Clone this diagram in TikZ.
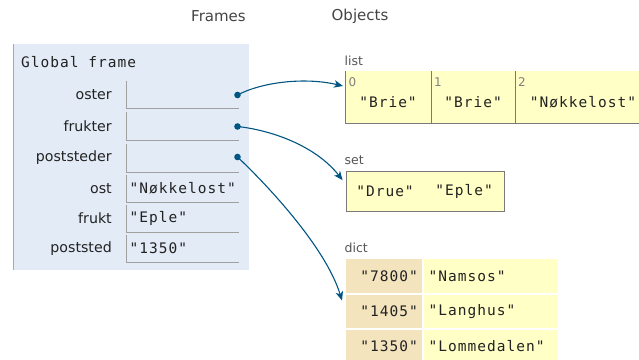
\documentclass[tikz,border=0pt]{standalone}
\usepackage{fontspec}
\setmainfont{DejaVu Sans}
\newfontfamily\monof[LetterSpace=7]{DejaVu Sans Mono}
\usetikzlibrary{arrows.meta,calc}
\definecolor{framebg}{HTML}{E2EBF6}
\definecolor{frameedge}{HTML}{A8A8A8}
\definecolor{cellline}{HTML}{A0A0A0}
\definecolor{ptrblue}{HTML}{005583}
\definecolor{heapbg}{HTML}{FFFFC6}
\definecolor{keybg}{HTML}{F3E4BE}
\definecolor{heapedge}{HTML}{7A7A7A}
\definecolor{hdrtext}{HTML}{444444}
\definecolor{lbltext}{HTML}{555555}
\definecolor{idxtext}{HTML}{808080}
\definecolor{vartext}{HTML}{222222}
\begin{document}
\begin{tikzpicture}[x=1pt,y=-1pt,
  header/.style={inner sep=0pt,text=hdrtext,font=\fontsize{15}{18}\selectfont},
  mono/.style={inner sep=0pt,text=vartext,font=\monof\fontsize{14.5}{17}\selectfont},
  varname/.style={inner sep=0pt,text=vartext,font=\fontsize{14.2}{17}\selectfont},
  objlbl/.style={inner sep=0pt,text=lbltext,font=\fontsize{12.5}{15}\selectfont},
  idx/.style={inner sep=0pt,text=idxtext,font=\fontsize{12}{14}\selectfont},
  cellbox/.style={inner sep=0pt,minimum width=113pt,minimum height=27.5pt},
  edge/.style={draw=cellline,line width=0.9pt},
  ptrarrow/.style={draw=ptrblue,line width=1.1pt,-{Stealth[length=9pt,width=7.5pt,inset=2.5pt]}},
  listcell/.style={inner sep=0pt,fill=heapbg,minimum height=51.7pt},
  dictkey/.style={inner sep=0pt,fill=keybg,minimum width=76pt,minimum height=33.5pt},
  dictval/.style={inner sep=0pt,fill=heapbg,minimum width=134pt,minimum height=33.5pt},
]
\useasboundingbox (0,0) rectangle (639,359);

% headers
\node[header] (hframes) at (218.5,16) {Frames};
\node[header] (hobjects) at (360,16) {Objects};

% global frame
\node[inner sep=0pt,fill=framebg,anchor=north west,minimum width=236pt,minimum height=226pt] (gframe) at (13,44) {};
\draw[draw=frameedge,line width=1pt] (gframe.north west) -- (gframe.south west);
\node[mono,anchor=west] (gtitle) at (21,62) {Global frame};

\foreach \i/\nm/\val/\yc in {1/oster/{}/94.8,2/frukter/{}/126,3/poststeder/{}/158,4/ost/{"Nøkkelost"}/188.5,5/frukt/{"Eple"}/218.5,6/poststed/{"1350"}/248.5}{
  \node[varname,anchor=east] (n\i) at (112,\yc) {\nm};
  \node[cellbox,anchor=west] (c\i) at (126,\yc) {};
  \draw[edge] (c\i.north west) -- (c\i.south west) -- (c\i.south east);
  \node[mono,anchor=west] (t\i) at (129.5,\yc) {\val};
}

% pointer dots
\coordinate (p1) at (237.5,95);
\coordinate (p2) at (237.5,126.5);
\coordinate (p3) at (237.5,157);
\foreach \p in {p1,p2,p3}{\fill[ptrblue] (\p) circle (3.3pt);}

% list
\node[objlbl,anchor=west] (llist) at (344.5,61) {list};
\node[listcell,anchor=north west,minimum width=85.5pt] (l0) at (345.5,71) {};
\node[listcell,anchor=north west,minimum width=84pt] (l1) at (431,71) {};
\node[listcell,anchor=north west,minimum width=150pt] (l2) at (515,71) {};
\foreach \c in {l0,l1,l2}{\draw[draw=heapedge,line width=1pt] (\c.north west) -- (\c.south west) -- (\c.south east);}
\node[idx,anchor=north west] (i0) at (348.5,77.5) {0};
\node[idx,anchor=north west] (i1) at (434,77.5) {1};
\node[idx,anchor=north west] (i2) at (518,77.5) {2};
\node[mono] (lv0) at (388,102.5) {"Brie"};
\node[mono] (lv1) at (473,102.5) {"Brie"};
\node[mono] (lv2) at (583,102.5) {"Nøkkelost"};

% set
\node[objlbl,anchor=west] (lset) at (344.5,160) {set};
\node[inner sep=0pt,fill=heapbg,draw=heapedge,line width=1pt,anchor=north west,minimum width=158pt,minimum height=40pt] (setobj) at (345.6,170.7) {};
\node[mono] (s1) at (385,191.5) {"Drue"};
\node[mono] (s2) at (464,191.5) {"Eple"};

% dict
\node[objlbl,anchor=west] (ldict) at (344.5,248) {dict};
\node[dictkey,anchor=north west] (k1) at (346,259) {};
\node[dictval,anchor=north west] (v1) at (424,259) {};
\node[dictkey,anchor=north west] (k2) at (346,294.7) {};
\node[dictval,anchor=north west] (v2) at (424,294.7) {};
\node[dictkey,anchor=north west] (k3) at (346,329.7) {};
\node[dictval,anchor=north west] (v3) at (424,329.7) {};
\node[mono,anchor=east] (kt1) at (418,276) {"7800"};
\node[mono,anchor=west] (vt1) at (428.5,276) {"Namsos"};
\node[mono,anchor=east] (kt2) at (418,311.5) {"1405"};
\node[mono,anchor=west] (vt2) at (428.5,311.5) {"Langhus"};
\node[mono,anchor=east] (kt3) at (418,346.5) {"1350"};
\node[mono,anchor=west] (vt3) at (428.5,346.5) {"Lommedalen"};

% arrows
\draw[ptrarrow] (p1) .. controls (262,82) and (305,77) .. ($(l0.north west)+(-2.5,15)$);
\draw[ptrarrow] (p2) .. controls (270,130) and (315,145) .. ($(setobj.north west)+(-3,9.5)$);
\draw[ptrarrow] (p3) .. controls (262,180) and (325,245) .. ($(k1.north west)+(-4,41.5)$);
\end{tikzpicture}
\end{document}
